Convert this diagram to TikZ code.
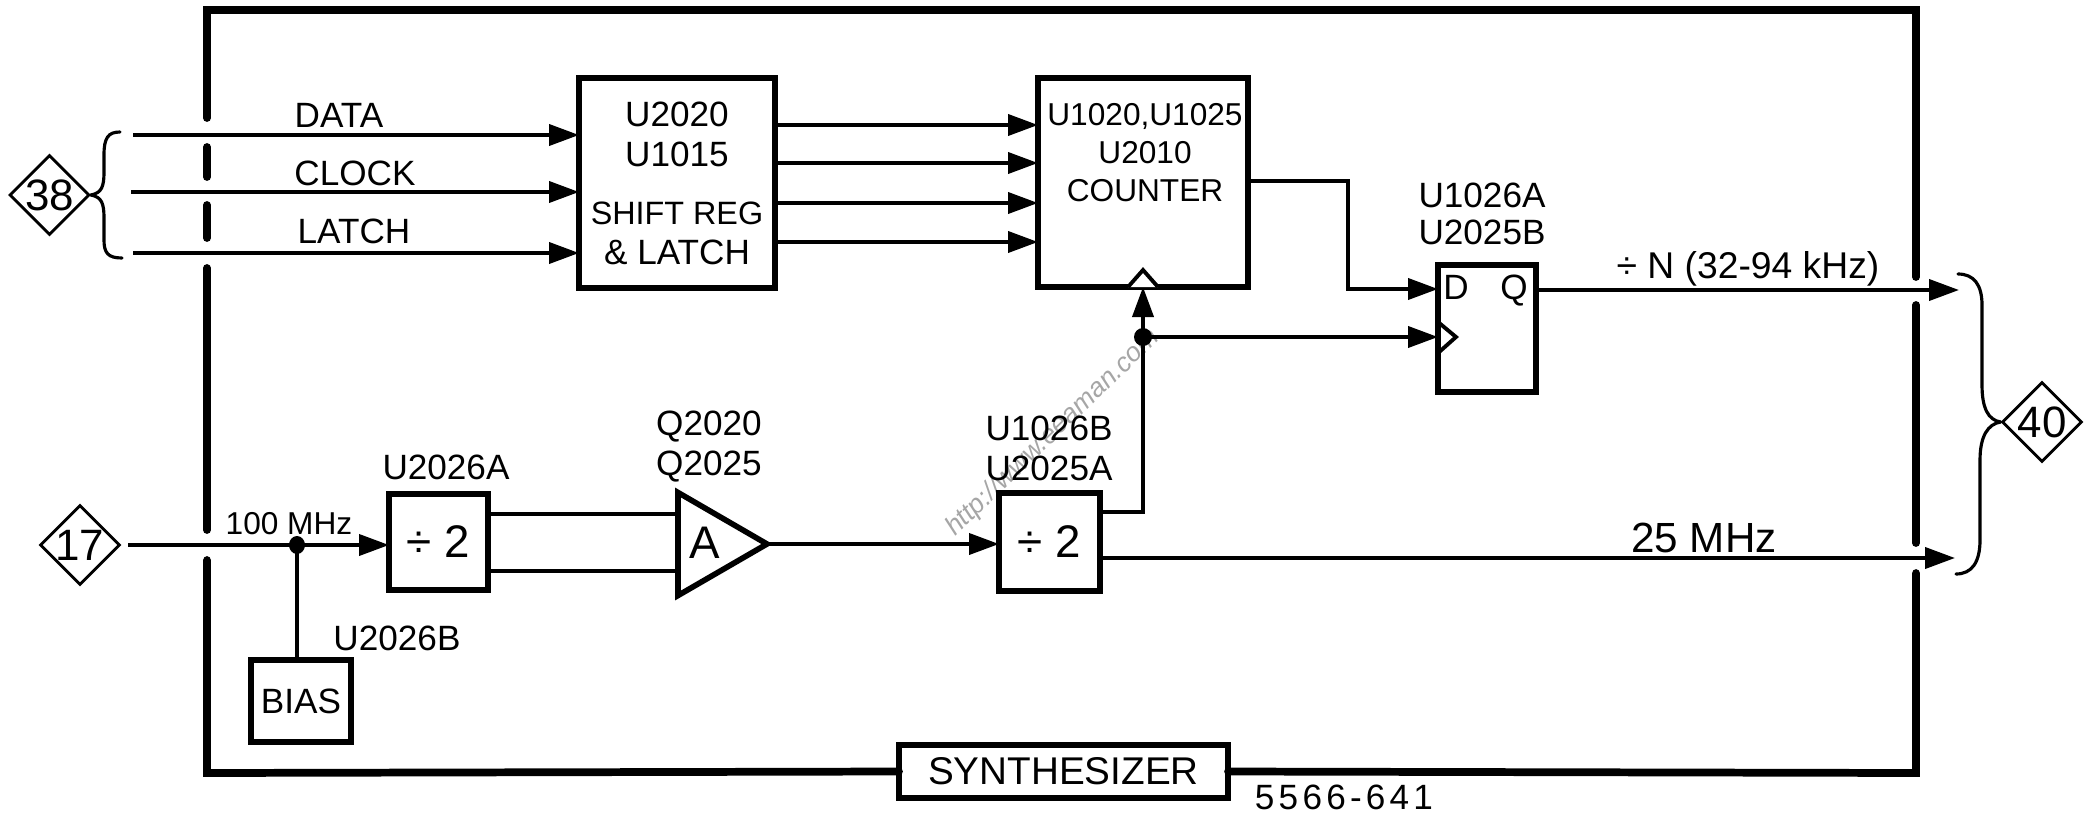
\documentclass[tikz,border=0pt]{standalone}
\usepackage{fontspec}
\setmainfont{Liberation Sans}
\usetikzlibrary{arrows.meta, positioning, shapes.geometric}
\tikzset{
	box/.style={draw, line width=1.6pt, minimum width=#1, inner sep=0pt, outer sep=0pt, align=center},
	lbl/.style={inner sep=0pt, align=center, font=\fontsize{10}{11.4}\selectfont},
	refmark/.style={draw, diamond, aspect=1, line width=0.8pt, minimum size=0.8cm, inner sep=0pt, font=\fontsize{12.5}{14}\selectfont},
	sig/.style={line width=1.1pt, -{Triangle[length=0.3cm, width=0.21cm]}},
	wire/.style={line width=1.1pt},
	frameline/.style={line width=2.2pt, line cap=round, line join=miter},
	brc/.style={line width=0.9pt, line cap=round}
}

\begin{document}
\begin{tikzpicture}[x=1cm, y=-1cm]
	\useasboundingbox (0,0) rectangle (20.96,8.14);
	\node[inner sep=0pt, rotate=44, text=black!35, font=\fontsize{7.6}{9}\itshape] (wmark) at (10.53,4.33){http://www.eeaman.com};
	% Frame:
	\node[box=3.29cm, minimum height=0.53cm, font=\fontsize{11}{12}\selectfont] (synth) at (10.635,7.715){SYNTHESIZER};
	\coordinate (frameTL) at (2.07,0.1);
	\coordinate (frameTR) at (19.16,0.1);
	\coordinate (frameBL) at (2.07,7.73);
	\coordinate (frameBR) at (19.16,7.73);
	\draw[frameline] (2.07,1.18) -- (frameTL) -- (frameTR) -- (19.16,2.77);
	\draw[frameline] (synth.west) -- (frameBL) -- (2.07,5.60);
	\draw[frameline] (synth.east) -- (frameBR) -- (19.16,5.73);
	\draw[frameline] (2.07,1.47) -- (2.07,1.77);
	\draw[frameline] (2.07,2.05) -- (2.07,2.38);
	\draw[frameline] (2.07,2.68) -- (2.07,5.30);
	\draw[frameline] (19.16,3.05) -- (19.16,5.43);
	% Blocks:
	\node[box=1.96cm, minimum height=2.10cm, font=\fontsize{10}{11.4}\selectfont] (shift) at (6.77,1.83){U2020\\U1015\\[0.18cm]{\fontsize{9.2}{11.4}\selectfont SHIFT REG}\\\& LATCH};
	\node[box=2.10cm, minimum height=2.09cm] (counter) at (11.43,1.825){};
	\node[lbl, font=\fontsize{9}{10.8}\selectfont] (counterTxt) at (11.45,1.53){U1020,U1025\\U2010\\COUNTER};
	\node[box=0.98cm, minimum height=1.27cm] (ff) at (14.87,3.285){};
	\node[lbl, anchor=base] (ffD) at (14.56,2.99){D};
	\node[lbl, anchor=base] (ffQ) at (15.14,2.99){Q};
	\node[box=0.99cm, minimum height=0.96cm, font=\fontsize{13}{14}\selectfont] (divA) at (4.385,5.42){÷ 2};
	\node[box=1.01cm, minimum height=0.98cm, font=\fontsize{13}{14}\selectfont] (divB) at (10.495,5.42){÷ 2};
	\node[box=1.00cm, minimum height=0.82cm, font=\fontsize{10}{11}\selectfont] (bias) at (3.01,7.01){BIAS};
	\node[draw, isosceles triangle, isosceles triangle stretches, anchor=apex, line width=1.6pt, minimum width=1.03cm, minimum height=0.89cm, inner sep=0pt, outer sep=0pt] (amp) at (7.67,5.44){};
	\node[lbl, font=\fontsize{13}{14}\selectfont] (ampTxt) at (7.05,5.43){A};
	% Off-page references:
	\node[refmark] (n38) at (0.495,1.95){38};
	\node[refmark] (n17) at (0.80,5.45){17};
	\node[refmark] (n40) at (20.42,4.22){40};
	% Brackets:
	\draw[brc] (1.20,1.32) .. controls (1.08,1.32) and (1.04,1.38) .. (1.04,1.55) -- (1.04,1.72) .. controls (1.04,1.86) and (1.02,1.93) .. (n38.east);
	\draw[brc] (n38.east) .. controls (1.02,1.97) and (1.04,2.04) .. (1.04,2.18) -- (1.04,2.40) .. controls (1.04,2.53) and (1.08,2.58) .. (1.22,2.58);
	\draw[brc] (19.58,2.74) .. controls (19.74,2.74) and (19.82,2.85) .. (19.82,3.05) -- (19.82,3.85) .. controls (19.82,4.08) and (19.88,4.20) .. (n40.west);
	\draw[brc] (n40.west) .. controls (19.88,4.24) and (19.80,4.36) .. (19.80,4.60) -- (19.80,5.40) .. controls (19.80,5.62) and (19.72,5.74) .. (19.56,5.74);
	% Free ends:
	\coordinate (dataIn) at (1.33,1.35);
	\coordinate (clockIn) at (1.31,1.92);
	\coordinate (latchIn) at (1.33,2.53);
	\coordinate (clkIn) at (1.28,5.45);
	\coordinate (divOut) at (19.59,2.90);
	\coordinate (lowOut) at (19.55,5.58);
	\coordinate (junctA) at (2.97,5.45);
	\coordinate (junctB) at (11.43,3.37);
	% Wires:
	\draw[sig] (dataIn) -- (shift.west |- dataIn);
	\draw[sig] (clockIn) -- (shift.west |- clockIn);
	\draw[sig] (latchIn) -- (shift.west |- latchIn);
	\foreach \y in {1.25,1.63,2.03,2.42}
		\draw[sig] (shift.east |- 0,\y) -- (counter.west |- 0,\y);
	\draw[sig] (clkIn) -- (divA.west |- clkIn);
	\draw[wire] (junctA) -- (bias.north -| junctA);
	\fill (junctA) ellipse (0.08cm and 0.09cm);
	\draw[wire] (divA.east |- 0,5.14) -- (amp.west |- 0,5.14);
	\draw[wire] (divA.east |- 0,5.71) -- (amp.west |- 0,5.71);
	\draw[sig] (amp.apex) -- (divB.west |- amp.apex);
	\draw[wire] (divB.east |- 0,5.12) -| (junctB);
	\draw[sig] (junctB) -- (counter.south);
	\draw[sig] (junctB) -- (ff.west |- junctB);
	\fill (junctB) circle (0.09cm);
	\draw[sig] (counter.east |- 0,1.81) -| (13.48,2.89) -- (ff.west |- 0,2.89);
	\draw[sig] (ff.east |- divOut) -- (divOut);
	\draw[sig] (divB.east |- lowOut) -- (lowOut);
	% Clock marks:
	\draw[line width=1.1pt, fill=white] (counter.south) ++(-0.15,0) -- ++(0.15,-0.17) -- ++(0.15,0.17);
	\draw[line width=1.1pt] (14.38,3.22) -- (14.56,3.37) -- (14.38,3.53);
	% Labels:
	\node[lbl] (dataLbl) at (3.39,1.15){DATA};
	\node[lbl] (clockLbl) at (3.55,1.73){CLOCK};
	\node[lbl] (latchLbl) at (3.54,2.31){LATCH};
	\node[lbl] (ffLbl) at (14.82,2.14){U1026A\\[-0.03cm]U2025B};
	\node[lbl, font=\fontsize{10.6}{12}\selectfont] (divLbl) at (17.48,2.69){÷ N (32-94 kHz)};
	\node[lbl, font=\fontsize{12}{13}\selectfont] (lowLbl) at (17.04,5.38){25 MHz};
	\node[lbl, font=\fontsize{9}{10}\selectfont] (inLbl) at (2.89,5.24){100 MHz};
	\node[lbl] (divALbl) at (4.46,4.67){U2026A};
	\node[lbl] (biasLbl) at (3.97,6.38){U2026B};
	\node[lbl] (ampLbl) at (7.09,4.47){Q2020\\Q2025};
	\node[lbl] (divBLbl) at (10.49,4.48){U1026B\\U2025A};
	\node[lbl, font=\fontsize{10}{11}\addfontfeature{LetterSpace=12}] (figNo) at (13.44,7.97){5566-641};
\end{tikzpicture}
\end{document}
